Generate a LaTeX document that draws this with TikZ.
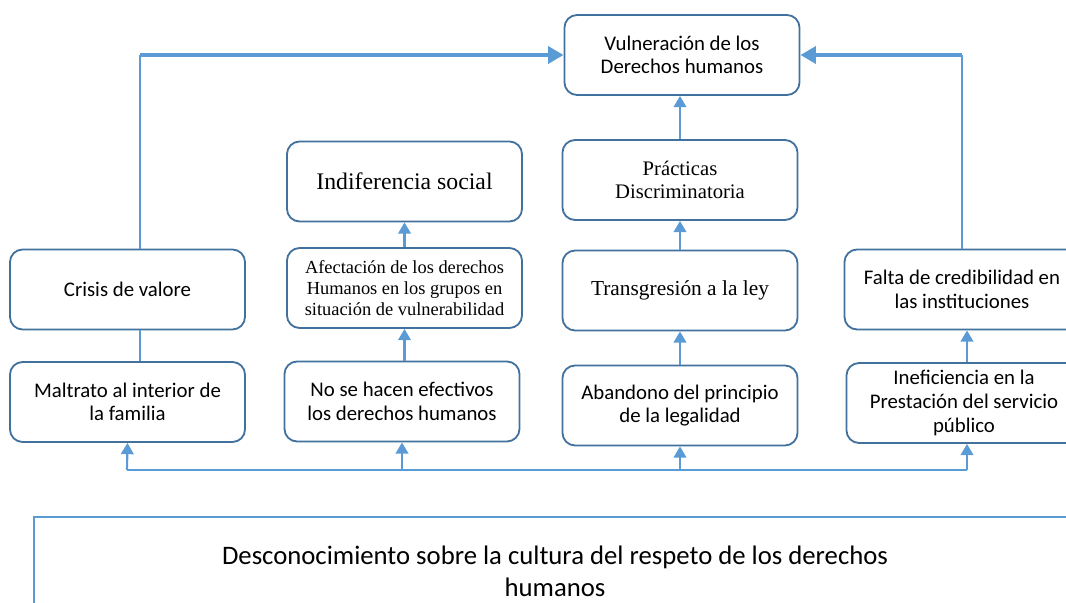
\documentclass[tikz,border=0pt]{standalone}
\usepackage{fontspec}
\setmainfont{Liberation Serif}
\newfontfamily\calibri{Carlito}
\usetikzlibrary{arrows.meta}
\definecolor{boxblue}{RGB}{65,113,156}
\definecolor{arrowblue}{RGB}{91,155,213}

\begin{document}
\begin{tikzpicture}[x=0.025cm, y=-0.025cm,
    every node/.append style={draw=boxblue, line width=1.3pt, rounded corners=9pt, fill=white,
      align=center, minimum width=5.875cm, minimum height=2cm, inner sep=2pt},
    sans/.style={font=\calibri\fontsize{14.8}{16.8}\selectfont},
    serif/.style={font=\fontsize{13.1}{14.7}\selectfont},
    up/.style={arrowblue, line width=1.5pt, -{Triangle[width=9pt,length=8pt]}},
    link/.style={arrowblue, line width=1pt}]
    \useasboundingbox (0,0) rectangle (1066,603);
    \clip (0,0) rectangle (1066,603);
    % top
    \node[sans] (vul) at (682,55) {Vulneraci\'on de los\\Derechos humanos};
    \node[serif, font=\fontsize{16.9}{19}\selectfont] (ind) at (404.5,181.5) {Indiferencia social};
    \node[serif, font=\fontsize{14.7}{16.5}\selectfont] (pra) at (680,180) {Pr\'acticas\\Discriminatoria};
    % middle row
    \node[sans] (cri) at (127.5,289.5) {Crisis de valore};
    \node[serif] (afe) at (404.5,288) {Afectaci\'on de los derechos\\Humanos en los grupos en\\situaci\'on de vulnerabilidad};
    \node[serif, font=\fontsize{15.2}{17}\selectfont] (tra) at (680,290.5) {Transgresi\'on a la ley};
    \node[sans] (fal) at (962,289.5) {Falta de credibilidad en\\las instituciones};
    % bottom row
    \node[sans] (mal) at (127.5,402) {Maltrato al interior de\\la familia};
    \node[sans] (nos) at (402,401.5) {No se hacen efectivos\\los derechos humanos};
    \node[sans] (aba) at (680,405.5) {Abandono del principio\\de la legalidad};
    \node[sans] (ine) at (964,403) {Ineficiencia en la\\Prestaci\'on del servicio\\p\'ublico};
    % root cause
    \node[draw=arrowblue, line width=1.2pt, rounded corners=0pt, minimum width=26.05cm, minimum height=2.7cm,
      font=\calibri\fontsize{19}{22.8}\selectfont] (des) at (555,571)
      {Desconocimiento sobre la cultura del respeto de los derechos\\humanos};

    \coordinate (bl) at (127,470);
    \coordinate (br) at (967,470);
    \coordinate (lk) at (140,55);
    \coordinate (rk) at (962,55);

    \draw[link] (bl) -- (br);
    \draw[up] (bl) -- (mal.south);
    \draw[up] (nos.south |- bl) -- (nos.south);
    \draw[up] (aba.south |- bl) -- (aba.south);
    \draw[up] (br) -- (ine.south -| br);

    \draw[up] (nos.north -| afe.south) -- (afe.south);
    \draw[up] (afe.north) -- (ind.south);
    \draw[up] (aba.north) -- (tra.south);
    \draw[up] (tra.north) -- (pra.south);
    \draw[up] (pra.north) -- (vul.south -| pra.north);
    \draw[up] (ine.north -| br) -- (fal.south -| br);

    \draw[link] (mal.north -| lk) -- (cri.south -| lk);
    \draw[link] (cri.north -| lk) -- (lk);
    \draw[arrowblue, line width=1.4pt] (fal.north -| rk) -- (rk);
    \draw[arrowblue, line width=2.8pt, -{Triangle[width=12pt,length=11pt]}] (lk) -- (vul.west);
    \draw[arrowblue, line width=2.8pt, -{Triangle[width=12pt,length=11pt]}] (rk) -- (vul.east);
  \end{tikzpicture}
\end{document}
